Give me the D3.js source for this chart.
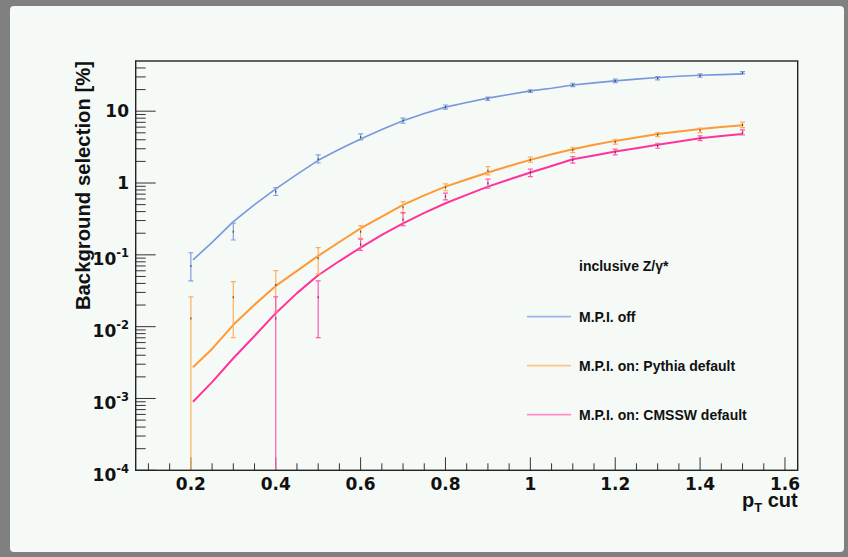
<!DOCTYPE html>
<html>
<head>
<meta charset="utf-8">
<script src="https://cdn.jsdelivr.net/npm/d3@7"></script>
<style>
  html, body { margin: 0; padding: 0; background: #808080; }
  svg { display: block; }
</style>
</head>
<body>
<svg id="chart" width="848" height="557"></svg>
<script>
// pT cut values for the fine curves
const cutLine = [0.205, 0.25, 0.3, 0.35, 0.4, 0.45, 0.5, 0.55, 0.6, 0.65, 0.7, 0.75, 0.8, 0.85,
                 0.9, 0.95, 1.0, 1.05, 1.1, 1.15, 1.2, 1.25, 1.3, 1.35, 1.4, 1.45, 1.5];
// background selection [%] per curve
const mpiOff = [0.085, 0.149, 0.29, 0.50, 0.83, 1.32, 2.07, 2.95, 4.1, 5.55, 7.35, 9.3, 11.4, 13.2,
                15.2, 17.1, 19.2, 20.9, 23.2, 24.8, 26.4, 28.0, 29.4, 30.6, 31.7, 32.3, 33.1];
const mpiPythia = [0.00272, 0.0049, 0.0106, 0.0202, 0.0369, 0.0597, 0.0966, 0.151, 0.234, 0.341, 0.495,
                   0.672, 0.89, 1.12, 1.40, 1.73, 2.10, 2.52, 2.96, 3.40, 3.86, 4.31, 4.83, 5.23, 5.67, 6.04, 6.38];
const mpiCmssw = [0.00090, 0.00169, 0.00363, 0.00741, 0.0154, 0.0293, 0.052, 0.082, 0.126, 0.19, 0.275,
                  0.384, 0.523, 0.683, 0.89, 1.12, 1.40, 1.73, 2.14, 2.42, 2.74, 3.05, 3.40, 3.78, 4.21, 4.53, 4.83];

// coarse points with error bars (0 = bar runs off the bottom of the axis)
const cutErr = [0.2, 0.3, 0.4, 0.5, 0.6, 0.7, 0.8, 0.9, 1.0, 1.1, 1.2, 1.3, 1.4, 1.5];
const offMid  = [0.07, 0.21, 0.76, 2.15, 4.35, 7.4, 11.4, 14.9, 19.0, 23.2, 26.4, 28.8, 31.3, 34.3];
const offLow  = [0.0433, 0.161, 0.67, 1.9, 3.98, 6.8, 10.7, 14.1, 18.2, 22.0, 25.0, 27.3, 29.7, 33.0];
const offHigh = [0.107, 0.276, 0.86, 2.46, 4.83, 8.0, 12.2, 15.7, 19.8, 24.5, 27.9, 30.3, 33.0, 35.6];
const pytMid  = [0.013, 0.0257, 0.038, 0.0897, 0.21, 0.46, 0.87, 1.48, 2.1, 2.9, 3.75, 4.7, 5.4, 6.45];
const pytLow  = [0, 0.00703, 0.016, 0.0542, 0.170, 0.38, 0.78, 1.30, 1.95, 2.65, 3.47, 4.43, 5.03, 5.91];
const pytHigh = [0.026, 0.0424, 0.0603, 0.126, 0.255, 0.551, 0.97, 1.69, 2.29, 3.15, 4.07, 5.03, 5.8, 7.03];
const cmsMid  = [null, null, 0.013, 0.0257, 0.14, 0.31, 0.65, 0.99, 1.4, 2.1, 2.7, 3.3, 4.2, 5.05];
const cmsLow  = [null, null, 0, 0.00703, 0.115, 0.255, 0.582, 0.847, 1.23, 1.89, 2.46, 3.05, 3.89, 4.68];
const cmsHigh = [null, null, 0.026, 0.0433, 0.165, 0.387, 0.721, 1.13, 1.56, 2.33, 2.96, 3.58, 4.53, 5.48];

const xMajor = [0.2, 0.4, 0.6, 0.8, 1.0, 1.2, 1.4, 1.6];
const xLabels = ["0.2", "0.4", "0.6", "0.8", "1", "1.2", "1.4", "1.6"];
const yMajor = [1e-4, 1e-3, 1e-2, 1e-1, 1, 10];
const yLabels = [["10", "-4"], ["10", "-3"], ["10", "-2"], ["10", "-1"], ["1", ""], ["10", ""]];

const legendTitle = "inclusive Z/\u03B3*";
const seriesNames = ["M.P.I. off", "M.P.I. on: Pythia default", "M.P.I. on: CMSSW default"];

const colors = {
  off: "#7898dc", pyt: "#ff9933", cms: "#ff3399",
  offErr: "#7f9fe0", pytErr: "#ffad5c", cmsErr: "#ff5aac",
  offLeg: "#9db3ee", pytLeg: "#ffc287", cmsLeg: "#ff8fc3"
};

const svg = d3.select("#chart");
// canvas frame and pad
svg.append("rect").attr("width", 848).attr("height", 557).attr("fill", "#808080");
svg.append("rect").attr("x", 10).attr("y", 6).attr("width", 834).attr("height", 546)
  .attr("rx", 4).attr("fill", "#f6faf7");

const L = 135.7, R = 797.7, T = 61, B = 470.3;
const x = d3.scaleLinear().domain([0.07, 1.63]).range([L, R]);
const y = d3.scaleLog().domain([1e-4, 50]).range([B, T]);

svg.append("clipPath").attr("id", "plotClip")
  .append("rect").attr("x", L).attr("y", T).attr("width", R - L).attr("height", B - T);

// x ticks
const xMinor = d3.range(2, 33).map(i => i * 0.05).filter(v => v > 0.07 && v < 1.63);
svg.append("g").selectAll("line").data(xMinor).join("line")
  .attr("x1", d => x(d)).attr("x2", d => x(d))
  .attr("y1", B).attr("y2", d => xMajor.some(m => Math.abs(m - d) < 1e-6) ? B - 13 : B - 7)
  .attr("stroke", "#333").attr("stroke-width", 1);

// y ticks
const yMinor = [];
for (let d = -4; d <= 1; d++) for (let m = 2; m <= 9; m++) {
  const v = m * Math.pow(10, d);
  if (v < 50) yMinor.push(v);
}
svg.append("g").selectAll("line").data(yMinor).join("line")
  .attr("x1", L).attr("x2", L + 10)
  .attr("y1", d => y(d)).attr("y2", d => y(d))
  .attr("stroke", "#333").attr("stroke-width", 1);
svg.append("g").selectAll("line").data(yMajor).join("line")
  .attr("x1", L).attr("x2", L + 20)
  .attr("y1", d => y(d)).attr("y2", d => y(d))
  .attr("stroke", "#333").attr("stroke-width", 1);

// tick labels
const tickFont = "'DejaVu Sans', sans-serif";
svg.append("g").selectAll("text").data(xMajor).join("text")
  .attr("x", d => x(d)).attr("y", B + 19.5)
  .attr("text-anchor", "middle")
  .attr("font-family", tickFont).attr("font-weight", "bold").attr("font-size", 17)
  .attr("fill", "#111")
  .text((d, i) => xLabels[i]);

const yl = svg.append("g").selectAll("text").data(yMajor).join("text")
  .attr("x", 129)
  .attr("y", (d, i) => y(d) + (yLabels[i][1] ? 10.5 : 6))
  .attr("text-anchor", "end")
  .attr("font-family", tickFont).attr("font-weight", "bold").attr("font-size", 17)
  .attr("fill", "#111");
yl.append("tspan").text((d, i) => yLabels[i][0]);
yl.filter((d, i) => yLabels[i][1] !== "").append("tspan")
  .attr("dy", -8).attr("font-size", 11.5)
  .text((d, i) => yLabels[i][1]);

// axis titles
const titleFont = "'Liberation Sans', Arial, sans-serif";
svg.append("text")
  .attr("transform", `translate(89.5,${T}) rotate(-90)`)
  .attr("text-anchor", "end")
  .attr("font-family", titleFont).attr("font-weight", "bold").attr("font-size", 20.3)
  .attr("fill", "#111")
  .text("Background selection [%]");

const xt = svg.append("text")
  .attr("x", R).attr("y", 506.5).attr("text-anchor", "end")
  .attr("font-family", titleFont).attr("font-weight", "bold").attr("font-size", 20)
  .attr("fill", "#111");
xt.append("tspan").text("p");
xt.append("tspan").attr("dy", 5).attr("font-size", 13).text("T");
xt.append("tspan").attr("dy", -5).text(" cut");

// curves
const plot = svg.append("g").attr("clip-path", "url(#plotClip)");
const line = d3.line().x(d => x(d[0])).y(d => y(d[1]));
const curves = [
  { vals: mpiOff, color: colors.off, w: 1.6 },
  { vals: mpiPythia, color: colors.pyt, w: 2 },
  { vals: mpiCmssw, color: colors.cms, w: 2 }
];

// error bars
const errSets = [
  { mid: offMid, low: offLow, high: offHigh, color: colors.offErr },
  { mid: pytMid, low: pytLow, high: pytHigh, color: colors.pytErr },
  { mid: cmsMid, low: cmsLow, high: cmsHigh, color: colors.cmsErr }
];
const yv = v => (v > 0 ? y(v) : B + 20);

curves.forEach(c => {
  plot.append("path")
    .datum(cutLine.map((cx, i) => [cx, c.vals[i]]))
    .attr("d", line).attr("fill", "none")
    .attr("stroke", c.color).attr("stroke-width", c.w)
    .attr("stroke-linejoin", "round");
});

errSets.forEach(s => {
  const pts = cutErr.map((cx, i) => ({ cx, mid: s.mid[i], low: s.low[i], high: s.high[i] }))
    .filter(p => p.mid !== null);
  const g = plot.append("g");
  g.selectAll(".bar").data(pts).join("line")
    .attr("x1", d => x(d.cx)).attr("x2", d => x(d.cx))
    .attr("y1", d => yv(d.low)).attr("y2", d => yv(d.high))
    .attr("stroke", s.color).attr("stroke-width", 1.2);
  g.selectAll(".capH").data(pts).join("line")
    .attr("x1", d => x(d.cx) - 2.5).attr("x2", d => x(d.cx) + 2.5)
    .attr("y1", d => yv(d.high)).attr("y2", d => yv(d.high))
    .attr("stroke", s.color).attr("stroke-width", 1.2);
  g.selectAll(".capL").data(pts.filter(d => d.low > 0)).join("line")
    .attr("x1", d => x(d.cx) - 2.5).attr("x2", d => x(d.cx) + 2.5)
    .attr("y1", d => yv(d.low)).attr("y2", d => yv(d.low))
    .attr("stroke", s.color).attr("stroke-width", 1.2);
  g.selectAll(".mid").data(pts).join("rect")
    .attr("x", d => x(d.cx) - 0.6).attr("y", d => y(d.mid) - 1)
    .attr("width", 1.2).attr("height", 2)
    .attr("fill", "#333").attr("opacity", 0.8);
});

// frame
svg.append("rect").attr("x", L).attr("y", T).attr("width", R - L).attr("height", B - T)
  .attr("fill", "none").attr("stroke", "#222").attr("stroke-width", 1.4);

// legend
const legFont = "'Liberation Sans', Arial, sans-serif";
svg.append("text").attr("x", 579).attr("y", 271)
  .attr("font-family", legFont).attr("font-weight", "bold").attr("font-size", 14)
  .attr("fill", "#111").text(legendTitle);
const legColors = [colors.offLeg, colors.pytLeg, colors.cmsLeg];
const legY = [316.7, 365.7, 414.7];
const leg = svg.append("g").selectAll("g").data(seriesNames).join("g")
  .attr("transform", (d, i) => `translate(0,${legY[i]})`);
leg.append("line").attr("x1", 527).attr("x2", 571).attr("y1", 0).attr("y2", 0)
  .attr("stroke", (d, i) => legColors[i]).attr("stroke-width", 1.8);
leg.append("text").attr("x", 579).attr("y", 5)
  .attr("font-family", legFont).attr("font-weight", "bold").attr("font-size", 14)
  .attr("fill", "#111").text(d => d);
</script>
</body>
</html>
